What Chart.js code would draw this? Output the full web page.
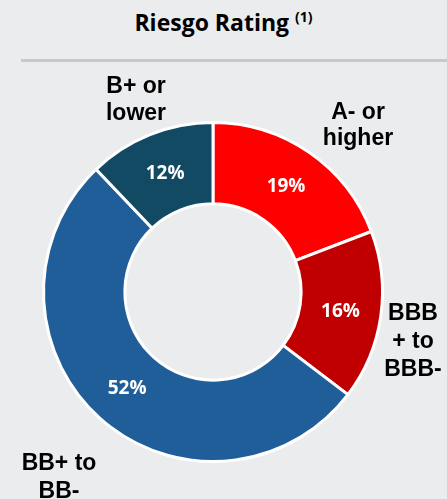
<!DOCTYPE html>
<html>
<head>
<meta charset="utf-8">
<script src="https://cdn.jsdelivr.net/npm/chart.js@4/dist/chart.umd.min.js"></script>
<style>
  html, body { margin: 0; padding: 0; background: #ebecee; width: 447px; height: 499px; overflow: hidden; }
  #title { position: absolute; left: 0; top: 6px; width: 447px; text-align: center;
           font-family: "Open Sans", sans-serif; font-weight: 700; font-size: 23px; color: #000; line-height: normal; }
  #title sup { font-size: 14px; }
  #rule { position: absolute; left: 21px; right: 0; top: 59px; height: 3px; background: #c6c9cf; }
  #c { position: absolute; left: 0; top: 0; }
</style>
</head>
<body>
<div id="title">Riesgo Rating <sup>(1)</sup></div>
<div id="rule"></div>
<canvas id="c" width="447" height="499"></canvas>
<script>
// Data
const categories = ["A- or higher", "BBB+ to BBB-", "BB+ to BB-", "B+ or lower"];
const categoryLines = [["A- or", "higher"], ["BBB", "+ to", "BBB-"], ["BB+ to", "BB-"], ["B+ or", "lower"]];
const shares = [19, 16, 52, 12];
const colors = ["#ff0000", "#c00000", "#1f5e99", "#134a63"];

// Offsets of outside label blocks from chart centre (x centre, first baseline, line height)
const labelPlacement = [
  { dx: 145, dy: -173, lh: 26 },
  { dx: 200, dy: 28, lh: 28 },
  { dx: -154, dy: 178, lh: 28 },
  { dx: -77, dy: -199, lh: 27 }
];

const labelPlugin = {
  id: 'labels',
  afterDatasetsDraw(chart) {
    const ctx = chart.ctx;
    const meta = chart.getDatasetMeta(0);
    ctx.save();
    meta.data.forEach((arc, i) => {
      const p = arc.tooltipPosition();
      ctx.font = '700 19px "Open Sans", sans-serif';
      ctx.fillStyle = '#ffffff';
      ctx.textAlign = 'center';
      ctx.textBaseline = 'middle';
      ctx.fillText(shares[i] + '%', p.x, p.y + 1);

      const pl = labelPlacement[i];
      ctx.font = '700 23px "Liberation Sans", Arial, sans-serif';
      ctx.fillStyle = '#000000';
      ctx.textBaseline = 'alphabetic';
      categoryLines[i].forEach((line, k) => {
        ctx.fillText(line, arc.x + pl.dx, arc.y + pl.dy + k * pl.lh);
      });
    });
    ctx.restore();
  }
};

new Chart(document.getElementById('c'), {
  type: 'doughnut',
  data: {
    labels: categories,
    datasets: [{
      data: shares,
      backgroundColor: colors,
      borderColor: '#ffffff',
      borderWidth: 3,
      hoverBorderWidth: 3,
      hoverOffset: 0
    }]
  },
  options: {
    responsive: false,
    animation: false,
    cutout: '52%',
    layout: { padding: { left: 42, right: 63, top: 121, bottom: 36 } },
    plugins: { legend: { display: false }, tooltip: { enabled: false }, title: { display: false } },
    events: []
  },
  plugins: [labelPlugin]
});
</script>
</body>
</html>
